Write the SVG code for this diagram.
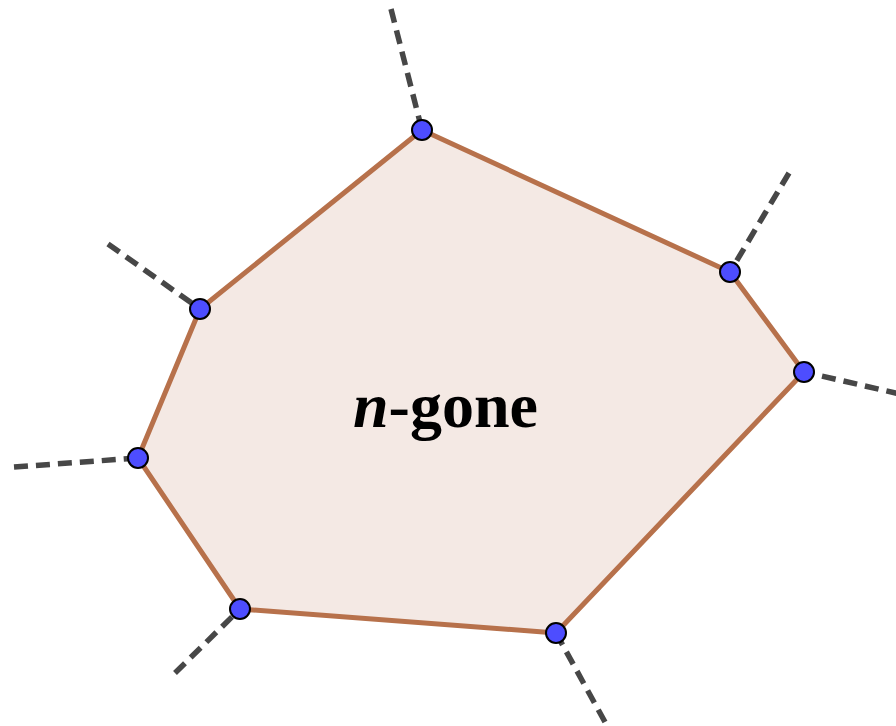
<svg xmlns="http://www.w3.org/2000/svg" width="896" height="726" viewBox="0 0 896 726">
<style>
.ext{stroke:#474747;stroke-width:5.5;stroke-dasharray:14 8;fill:none}
.poly{fill:#f4e9e4;stroke:#b7714b;stroke-width:5;stroke-linejoin:round}
.pt{fill:#4d4dff;stroke:#000;stroke-width:2}
.lbl{font-family:"Liberation Serif","Times New Roman",serif;font-weight:bold;font-size:64px;fill:#000}
</style>
<rect width="896" height="726" fill="#fff"/>
<g id="connectors">
<line class="ext" x1="391" y1="9" x2="422" y2="130"/>
<line class="ext" x1="789" y1="173" x2="730" y2="272"/>
<line class="ext" x1="900" y1="394" x2="804" y2="372"/>
<line class="ext" x1="605" y1="722" x2="556" y2="633"/>
<line class="ext" x1="175" y1="673" x2="240" y2="609"/>
<line class="ext" x1="14" y1="467" x2="138" y2="458"/>
<line class="ext" x1="108" y1="244" x2="200" y2="309"/>
</g>
<g id="polygon">
<polygon class="poly" points="422,130 730,272 804,372 556,633 240,609 138,458 200,309"/>
<text class="lbl" x="353" y="427"><tspan font-style="italic">n</tspan>-gone</text>
</g>
<g id="v1"><circle class="pt" cx="422" cy="130" r="10"/></g>
<g id="v2"><circle class="pt" cx="730" cy="272" r="10"/></g>
<g id="v3"><circle class="pt" cx="804" cy="372" r="10"/></g>
<g id="v4"><circle class="pt" cx="556" cy="633" r="10"/></g>
<g id="v5"><circle class="pt" cx="240" cy="609" r="10"/></g>
<g id="v6"><circle class="pt" cx="138" cy="458" r="10"/></g>
<g id="v7"><circle class="pt" cx="200" cy="309" r="10"/></g>
</svg>
